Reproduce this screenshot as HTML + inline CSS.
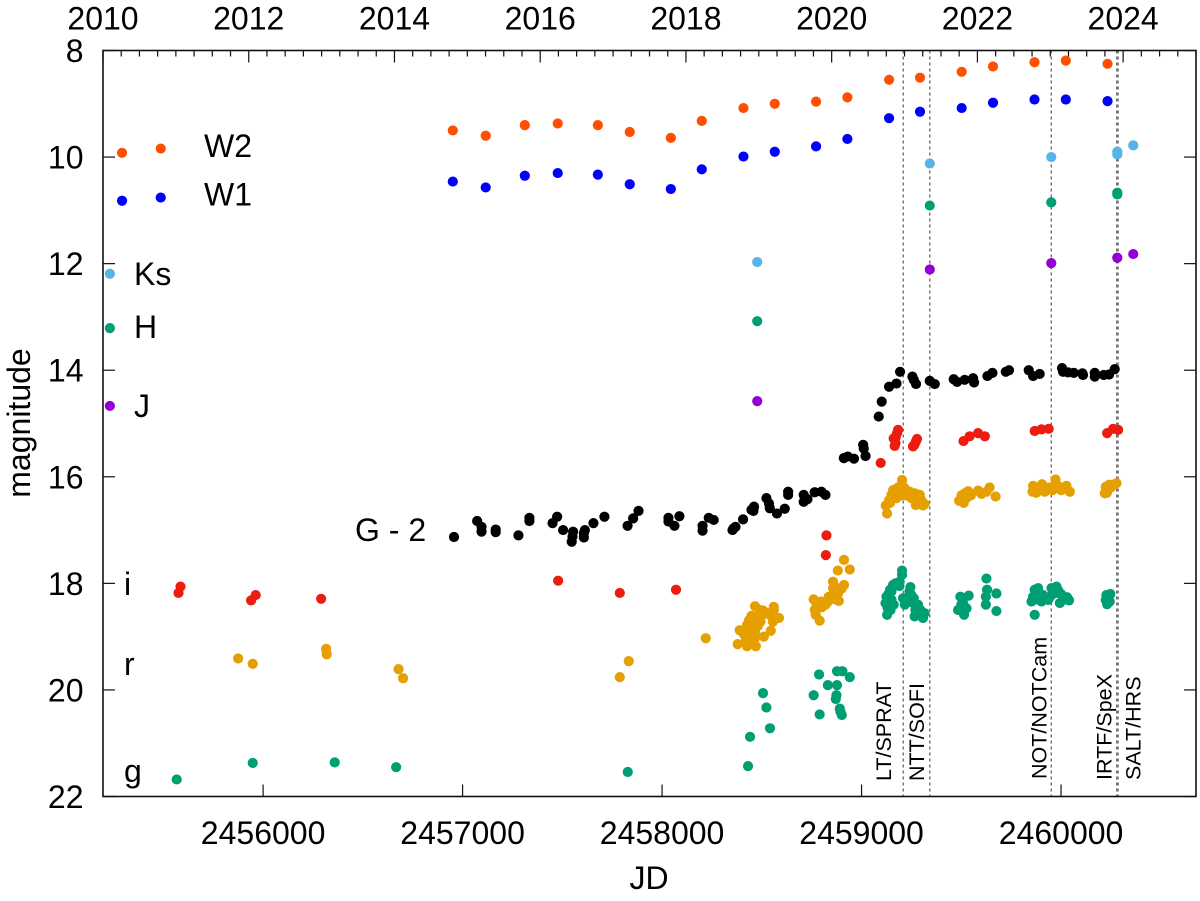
<!DOCTYPE html>
<html lang="en">
<head>
<meta charset="utf-8">
<title>Multi-band light curve</title>
<style>
html,body{margin:0;padding:0;background:#fff;}
svg{display:block;font-family:"Liberation Sans",Arial,sans-serif;}
text{fill:#000;}
</style>
</head>
<body>
<svg id="chart" xmlns="http://www.w3.org/2000/svg" width="1200" height="901" viewBox="0 0 1200 901">
  <rect x="0" y="0" width="1200" height="901" fill="#ffffff"/>
  <g id="ref-lines"></g>
  <g id="ticks"></g>
  <g id="marks"></g>
  <rect x="103" y="50.5" width="1093" height="746" fill="none" stroke="#111" stroke-width="1.6"/>
  <g id="tick-labels" font-size="32"></g>

  <text font-size="32" text-anchor="middle" transform="translate(30,423) rotate(-90)">magnitude</text>
  <text font-size="32" text-anchor="middle" x="649" y="889">JD</text>

  <text font-size="32" x="204" y="157">W2</text>
  <text font-size="32" x="204" y="205.5">W1</text>
  <text font-size="32" x="134" y="285">Ks</text>
  <text font-size="32" x="134" y="338">H</text>
  <text font-size="32" x="134" y="417">J</text>
  <text font-size="32" x="355" y="541">G - 2</text>
  <text font-size="32" x="124" y="595">i</text>
  <text font-size="32" x="124" y="675">r</text>
  <text font-size="32" x="124" y="782">g</text>

  <text font-size="21.5" transform="translate(891,781) rotate(-90)">LT/SPRAT</text>
  <text font-size="21.5" transform="translate(924,781) rotate(-90)">NTT/SOFI</text>
  <text font-size="21.5" transform="translate(1046.7,779) rotate(-90)">NOT/NOTCam</text>
  <text font-size="21.5" transform="translate(1111.7,780) rotate(-90)">IRTF/SpeX</text>
  <text font-size="21.5" transform="translate(1140.7,780) rotate(-90)">SALT/HRS</text>
</svg>
<script>
// All JD values are JD - 2450000
const jdTicks = [6000, 7000, 8000, 9000, 10000];
const jdTickLabels = ["2456000", "2457000", "2458000", "2459000", "2460000"];
const yearTicks = [2010, 2012, 2014, 2016, 2018, 2020, 2022, 2024];
const magTicks = [8, 10, 12, 14, 16, 18, 20, 22];
const epochLines = [9209, 9342, 9951, 10279, 10286];

const w2Band = [[5293,9.92],[5487,9.84],[6951,9.50],[7116,9.60],[7312,9.40],[7477,9.37],[7678,9.40],[7838,9.53],[8044,9.64],[8199,9.32],[8408,9.08],[8565,9.00],[8772,8.96],[8929,8.88],[9138,8.55],[9293,8.51],[9502,8.40],[9659,8.30],[9867,8.22],[10024,8.19],[10233,8.25]];
const w1Band = [[5293,10.82],[5487,10.76],[6951,10.46],[7116,10.57],[7312,10.35],[7477,10.30],[7678,10.33],[7838,10.51],[8044,10.60],[8199,10.23],[8408,9.99],[8565,9.90],[8772,9.80],[8929,9.66],[9138,9.27],[9293,9.15],[9502,9.08],[9659,8.98],[9867,8.92],[10024,8.92],[10233,8.95]];
const ksBand = [[5232,12.19],[8477,11.97],[9342,10.12],[9951,10.00],[10282,9.90],[10282,9.95],[10362,9.78]];
const hBand = [[5232,13.21],[8477,13.08],[9342,10.91],[9951,10.85],[10282,10.67],[10282,10.70]];
const jBand = [[5232,14.67],[8477,14.58],[9342,12.11],[9951,11.99],[10282,11.89],[10362,11.82]];
const gaiaBand = [[6957,17.13],[7073,16.83],[7095,16.94],[7095,17.03],[7166,16.99],[7166,17.04],[7280,17.10],[7335,16.77],[7335,16.83],[7451,16.87],[7474,16.75],[7504,17.00],[7554,17.03],[7551,17.12],[7547,17.22],[7613,17.00],[7608,17.06],[7608,17.14],[7656,16.87],[7711,16.75],[7827,16.92],[7855,16.78],[7882,16.64],[8032,16.77],[8032,16.84],[8062,16.92],[8087,16.74],[8203,16.92],[8203,17.01],[8234,16.77],[8259,16.81],[8353,17.00],[8368,16.94],[8358,16.97],[8406,16.80],[8448,16.62],[8461,16.56],[8458,16.64],[8523,16.40],[8536,16.50],[8540,16.59],[8576,16.69],[8615,16.60],[8632,16.28],[8632,16.34],[8710,16.34],[8710,16.47],[8729,16.42],[8765,16.29],[8799,16.28],[8819,16.34],[8911,15.65],[8931,15.62],[8962,15.66],[9008,15.40],[9011,15.47],[9020,15.61],[9086,14.87],[9101,14.59],[9138,14.31],[9175,14.25],[9193,14.03],[9255,14.12],[9262,14.18],[9273,14.26],[9342,14.20],[9367,14.26],[9462,14.17],[9479,14.22],[9517,14.18],[9559,14.15],[9564,14.23],[9631,14.11],[9656,14.05],[9723,14.03],[9739,14.00],[9838,14.00],[9860,14.11],[9893,14.07],[10005,13.96],[10010,14.03],[10035,14.04],[10064,14.05],[10107,14.06],[10110,14.09],[10169,14.05],[10169,14.12],[10214,14.09],[10241,14.08],[10269,13.98]];
const iBand = [[5586,18.06],[5576,18.18],[5963,18.22],[5940,18.32],[6291,18.29],[7479,17.95],[7788,18.18],[8070,18.12],[8824,17.10],[8821,17.47],[9096,15.74],[9183,15.12],[9178,15.18],[9171,15.26],[9161,15.28],[9170,15.37],[9166,15.42],[9278,15.29],[9272,15.34],[9265,15.40],[9258,15.43],[9511,15.33],[9542,15.24],[9584,15.18],[9618,15.24],[9868,15.14],[9902,15.11],[9938,15.10],[10231,15.18],[10261,15.10],[10286,15.12]];
const rBand = [[5875,19.41],[5948,19.51],[6316,19.23],[6319,19.33],[6679,19.61],[6702,19.78],[7788,19.76],[7833,19.46],[8219,19.03],[8379,19.14],[8389,18.88],[8426,19.18],[8470,19.18],[8431,19.03],[8465,19.03],[8440,18.91],[8465,18.91],[8426,18.78],[8456,18.78],[8448,18.61],[8481,18.64],[8466,18.43],[8506,18.51],[8493,18.72],[8540,18.59],[8560,18.44],[8560,18.50],[8556,18.72],[8586,18.65],[8545,18.89],[8510,19.00],[8456,19.10],[8760,18.30],[8799,18.34],[8832,18.34],[8765,18.50],[8770,18.59],[8790,18.70],[8782,18.43],[8886,18.33],[8857,17.97],[8857,18.09],[8882,18.19],[8891,18.09],[8912,18.03],[8857,18.22],[8836,18.25],[8881,17.76],[8941,17.74],[8912,17.56],[9128,16.69],[9121,16.54],[9138,16.44],[9150,16.34],[9158,16.25],[9171,16.28],[9183,16.32],[9200,16.25],[9203,16.06],[9203,16.15],[9217,16.22],[9242,16.28],[9267,16.31],[9258,16.40],[9292,16.34],[9300,16.44],[9272,16.53],[9308,16.54],[9316,16.51],[9233,16.34],[9183,16.20],[9143,16.49],[9489,16.45],[9512,16.49],[9501,16.35],[9517,16.31],[9534,16.27],[9548,16.35],[9584,16.26],[9601,16.32],[9626,16.28],[9642,16.20],[9672,16.37],[9857,16.28],[9860,16.17],[9885,16.25],[9905,16.14],[9918,16.28],[9943,16.20],[9957,16.25],[9972,16.05],[9985,16.17],[10027,16.17],[10044,16.28],[10219,16.31],[10224,16.19],[10241,16.15],[10261,16.15],[10278,16.12],[10227,16.25],[8440,19.10],[8470,19.00],[8450,18.85],[8480,18.80],[8470,18.70],[8500,18.60],[8520,18.55],[8490,18.50],[8435,18.70],[8410,18.95],[8420,19.05],[8775,18.40],[8800,18.45],[8820,18.40],[8850,18.25],[8865,18.15],[8870,18.30],[8900,18.10],[9160,16.40],[9175,16.40],[9195,16.35],[9220,16.35],[9250,16.40],[9280,16.45],[9505,16.42],[9525,16.40],[9540,16.30],[9875,16.30],[9900,16.25],[9930,16.25],[9970,16.20],[10000,16.25],[10230,16.30],[10240,16.22],[10250,16.20]];
const gBand = [[5567,21.68],[5948,21.37],[6359,21.36],[6667,21.45],[7828,21.54],[8431,21.43],[8441,20.88],[8506,20.06],[8523,20.33],[8541,20.72],[8787,19.71],[8831,19.91],[8760,20.10],[8790,20.46],[8877,19.65],[8904,19.65],[8941,19.76],[8877,19.91],[8874,20.10],[8871,20.17],[8891,20.35],[8894,20.41],[8901,20.47],[9203,17.76],[9203,17.84],[9191,17.97],[9158,18.03],[9143,18.12],[9125,18.25],[9120,18.37],[9128,18.59],[9150,18.31],[9161,18.40],[9133,18.47],[9208,18.28],[9217,18.40],[9245,18.07],[9250,18.22],[9258,18.37],[9283,18.40],[9266,18.62],[9283,18.53],[9308,18.65],[9316,18.56],[9495,18.25],[9537,18.23],[9509,18.37],[9484,18.50],[9514,18.59],[9526,18.47],[9626,17.91],[9629,18.12],[9623,18.25],[9623,18.40],[9676,18.19],[9676,18.52],[9868,18.59],[9852,18.34],[9868,18.12],[9885,18.09],[9873,18.23],[9910,18.22],[9902,18.34],[9935,18.31],[9952,18.09],[9977,18.06],[9985,18.13],[9965,18.19],[9994,18.37],[10010,18.31],[10030,18.26],[10040,18.32],[10227,18.22],[10247,18.20],[10224,18.31],[10231,18.39],[10244,18.34],[9135,18.20],[9150,18.15],[9170,18.00],[9190,18.05],[9130,18.45],[9145,18.50],[9225,18.30],[9240,18.15],[9262,18.28],[9270,18.50],[9295,18.50],[9300,18.60],[9515,18.45],[9500,18.40],[9860,18.25],[9880,18.30],[9895,18.20],[9920,18.30],[9945,18.25],[10000,18.20],[9960,18.10],[10235,18.28],[10238,18.36]];

const SVG_NS = "http://www.w3.org/2000/svg";
const frameLeft = 103, frameRight = 1196, frameTop = 50.5, frameBottom = 796.5;
const jdMin = 5197.5, jdMax = 10676.5;
const yearMin = 2010, yearMax = 2025;
const magMin = 8, magMax = 22;

function xFromJd(jd) { return frameLeft + (jd - jdMin) / (jdMax - jdMin) * (frameRight - frameLeft); }
function xFromYear(yr) { return frameLeft + (yr - yearMin) / (yearMax - yearMin) * (frameRight - frameLeft); }
function yFromMag(m) { return frameTop + (m - magMin) / (magMax - magMin) * (frameBottom - frameTop); }

function makeLine(parent, x1, y1, x2, y2, stroke, width) {
  const ln = document.createElementNS(SVG_NS, "line");
  ln.setAttribute("x1", x1);
  ln.setAttribute("y1", y1);
  ln.setAttribute("x2", x2);
  ln.setAttribute("y2", y2);
  ln.setAttribute("stroke", stroke);
  ln.setAttribute("stroke-width", width);
  parent.appendChild(ln);
  return ln;
}
function makeText(parent, x, y, anchor, content) {
  const t = document.createElementNS(SVG_NS, "text");
  t.setAttribute("x", x);
  t.setAttribute("y", y);
  t.setAttribute("text-anchor", anchor);
  t.textContent = content;
  parent.appendChild(t);
  return t;
}

const refGroup = document.getElementById("ref-lines");
const tickGroup = document.getElementById("ticks");
const labelGroup = document.getElementById("tick-labels");
const markGroup = document.getElementById("marks");

epochLines.forEach(function (jd) {
  const ln = makeLine(refGroup, xFromJd(jd), frameTop, xFromJd(jd), frameBottom, "#666", 1.3);
  ln.setAttribute("stroke-dasharray", "3 3");
  
  
});

jdTicks.forEach(function (jd, i) {
  const x = xFromJd(jd);
  const tk = makeLine(tickGroup, x, frameBottom, x, frameBottom - 12, "#111", 1.2);
  
  
  const lb = makeText(labelGroup, x, 844, "middle", jdTickLabels[i]);
  
  
});

yearTicks.forEach(function (yr) {
  const lb = makeText(labelGroup, xFromYear(yr), 29.5, "middle", String(yr));
  
  
});

for (let q = 0; q <= (yearMax - yearMin) * 4; q++) {
  const yr = yearMin + q / 4;
  const isMajor = q % 8 === 0;
  const tk = makeLine(tickGroup, xFromYear(yr), frameTop, xFromYear(yr), frameTop + (isMajor ? 12 : 6), "#111", 1.2);
  
  
}

magTicks.forEach(function (m) {
  const y = yFromMag(m);
  const tl = makeLine(tickGroup, frameLeft, y, frameLeft + 12, y, "#111", 1.2);
  
  
  const tr = makeLine(tickGroup, frameRight, y, frameRight - 12, y, "#111", 1.2);
  
  
  const lb = makeText(labelGroup, 83.5, y + 11.5, "end", String(m));
  
  
});

function plotBand(points, color, bandName) {
  const g = document.createElementNS(SVG_NS, "g");
  
  
  g.setAttribute("fill", color);
  points.forEach(function (p) {
    const c = document.createElementNS(SVG_NS, "circle");
    c.setAttribute("cx", xFromJd(p[0]).toFixed(2));
    c.setAttribute("cy", yFromMag(p[1]).toFixed(2));
    c.setAttribute("r", "5.1");
    
    
    g.appendChild(c);
  });
  markGroup.appendChild(g);
}

plotBand(w2Band, "#ff4f00", "w2");
plotBand(w1Band, "#0000ff", "w1");
plotBand(ksBand, "#56b4e9", "ks");
plotBand(hBand, "#009e73", "h");
plotBand(jBand, "#9400d3", "j");
plotBand(gaiaBand, "#000000", "gaia-g");
plotBand(iBand, "#ec1c10", "i");
plotBand(rBand, "#e69f00", "r");
plotBand(gBand, "#009e73", "g");
</script>
</body>
</html>
